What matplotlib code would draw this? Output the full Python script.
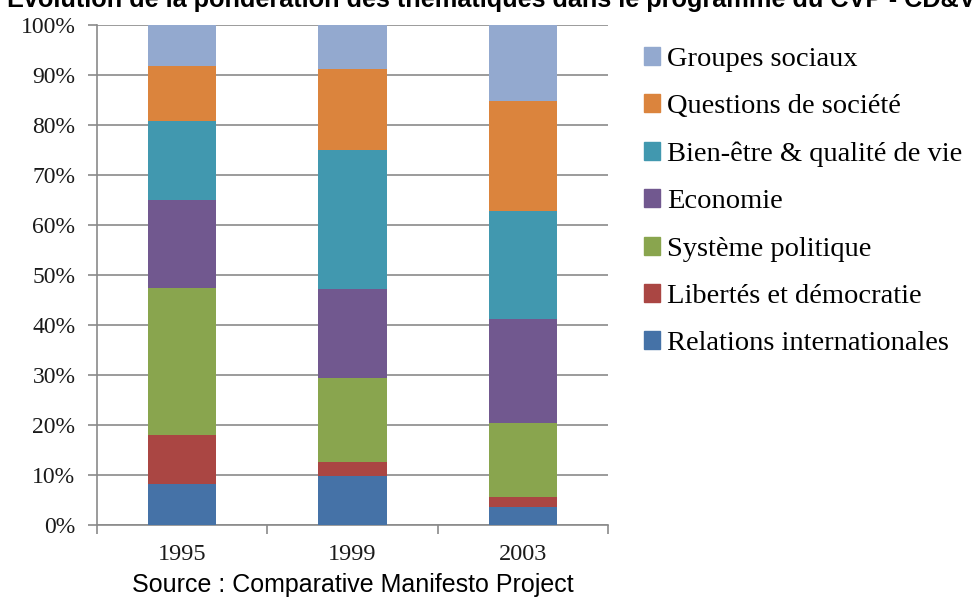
import matplotlib
matplotlib.use("Agg")
import matplotlib.pyplot as plt
from matplotlib.patches import Patch
import numpy as np

years = ["1995", "1999", "2003"]
categories = ["Relations internationales", "Libertés et démocratie", "Système politique",
              "Economie", "Bien-être & qualité de vie", "Questions de société", "Groupes sociaux"]
relations = [8.3, 9.9, 3.6]
libertes = [9.8, 2.8, 2.0]
systeme = [29.4, 16.8, 14.8]
economie = [17.6, 17.7, 20.9]
bien_etre = [15.8, 27.9, 21.5]
questions = [11.0, 16.1, 22.0]
groupes = [8.1, 8.8, 15.2]
series = [relations, libertes, systeme, economie, bien_etre, questions, groupes]
colors = ["#4572A7", "#AA4643", "#89A54E", "#71588F", "#4198AF", "#DB843D", "#93A9CF"]
yticklabels = ["0%", "10%", "20%", "30%", "40%", "50%", "60%", "70%", "80%", "90%", "100%"]

fig = plt.figure(figsize=(9.75, 5.98), dpi=100)
ax = fig.add_axes([97/975, 73/598, 511/975, 500/598])

x = np.arange(len(years))
bottom = np.zeros(len(years))
handles = []
for vals, col, name in zip(series, colors, categories):
    ax.bar(x, vals, 0.4, bottom=bottom, color=col, zorder=3)
    bottom += np.array(vals)
    handles.append(Patch(facecolor=col, edgecolor=col, label=name))

ax.set_xlim(-0.5, 2.5)
ax.set_ylim(0, 100)
ax.set_yticks(np.arange(0, 101, 10))
ax.set_yticklabels(yticklabels, family="Liberation Serif", fontsize=17, color="#1a1a1a")
ax.yaxis.grid(True, color="#8a8a8a", linewidth=1.2, zorder=0)
ax.set_xticks(x)
ax.set_xticklabels(years, family="Liberation Serif", fontsize=17.5, color="#1a1a1a")
ax.tick_params(axis="x", length=0, pad=14)
ax.set_xticks([-0.5, 0.5, 1.5, 2.5], minor=True)
ax.tick_params(axis="x", which="minor", length=6.5, color="#8a8a8a", width=1.2)
ax.tick_params(axis="y", length=6.5, color="#8a8a8a", width=1.2, pad=9)
for s in ["top", "right"]:
    ax.spines[s].set_visible(False)
for s in ["left", "bottom"]:
    ax.spines[s].set_color("#8a8a8a")
    ax.spines[s].set_linewidth(1.2)

leg = ax.legend(handles=handles[::-1], loc="upper left", bbox_to_anchor=(644/975, 1 - 47/598),
                bbox_transform=fig.transFigure, frameon=False,
                prop={"family": "Liberation Serif", "size": 20.5},
                handlelength=0.55, handleheight=0.6, handletextpad=0.25, labelspacing=0.78,
                borderaxespad=0, borderpad=0)

fig.text(7/975, 1 - 7/598, "Evolution de la pondération des thématiques dans le programme du CVP - CD&V",
         family="Liberation Sans", fontweight="bold", fontsize=18.2, va="baseline", ha="left")
fig.text(353/975, 1 - 585/598, "Source : Comparative Manifesto Project",
         family="Liberation Sans", fontsize=18, va="center", ha="center")

fig.savefig("out.png", dpi=100)
